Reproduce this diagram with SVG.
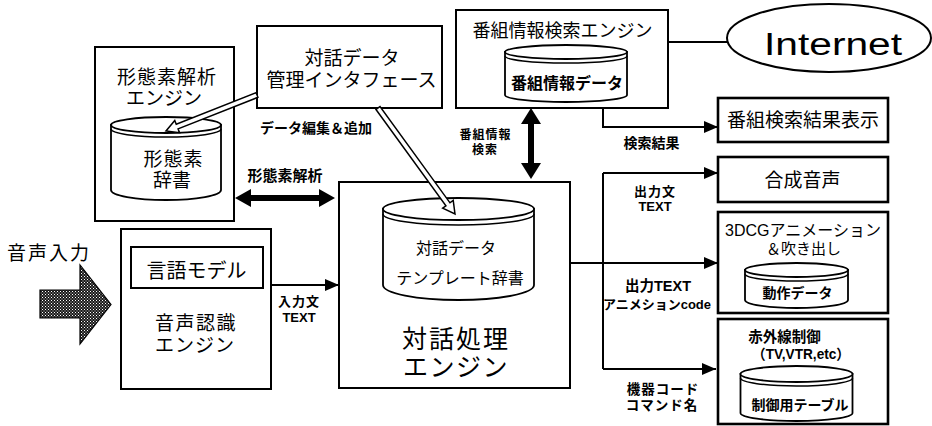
<svg xmlns="http://www.w3.org/2000/svg" width="932" height="426" viewBox="0 0 932 426">
<style>
.box{fill:#fff;stroke:#000;stroke-width:2}
.tbox{fill:#fff;stroke:#000;stroke-width:2.6}
.cyl{fill:#fff;stroke:#000;stroke-width:1.8}
.rim{fill:none;stroke:#000;stroke-width:1.5}
.ln{fill:none;stroke:#000;stroke-width:2}
.hollow{fill:#fff;stroke:#000;stroke-width:1.5;stroke-linejoin:miter}
.thick{fill:#000;stroke:none}
text{font-family:"Liberation Sans","Noto Sans CJK JP",sans-serif;fill:#000;text-anchor:middle}
.b{font-weight:bold}
</style>
<defs>
<marker id="ah" markerUnits="userSpaceOnUse" markerWidth="16" markerHeight="12" refX="14" refY="6" orient="auto">
<path d="M0,0 L14,6 L0,12 Z" fill="#000"/>
</marker>
<pattern id="dots" patternUnits="userSpaceOnUse" width="3" height="3">
<rect width="3" height="3" fill="#1a1a1a"/>
<rect x="0" y="0" width="1" height="1" fill="#fff"/>
<rect x="1.5" y="1.5" width="1" height="1" fill="#ddd"/>
</pattern>
</defs>

<g id="morph-engine">
<rect class="box" x="95" y="47" width="139" height="174"/>
<text x="167" y="84" font-size="19" letter-spacing="1">形態素解析</text>
<text x="164" y="104.5" font-size="19">エンジン</text>
<path class="cyl" d="M111,125 V190 A55,10 0 0 0 221,190 V125 Z"/>
<ellipse class="cyl" cx="166" cy="125" rx="55" ry="8"/>
<path class="rim" d="M111,129 A55,8 0 0 0 221,129"/>
<text x="173.5" y="166" font-size="19" letter-spacing="1">形態素</text>
<text x="172" y="186.5" font-size="19">辞書</text>
</g>

<g id="interface">
<rect class="box" x="257" y="26" width="185" height="82"/>
<text x="352" y="65" font-size="19">対話データ</text>
<text x="351.5" y="86.5" font-size="19">管理インタフェース</text>
</g>

<g id="program-engine">
<rect class="box" x="456" y="10" width="212" height="98"/>
<text x="562.5" y="37" font-size="18">番組情報検索エンジン</text>
<path class="cyl" d="M505,52 V95 A61,7 0 0 0 627,95 V52 Z"/>
<ellipse class="cyl" cx="566" cy="52" rx="61" ry="7"/>
<path class="rim" d="M505,56 A61,7 0 0 0 627,56"/>
<text class="b" x="567" y="89" font-size="16">番組情報データ</text>
</g>

<g id="internet">
<ellipse class="box" cx="829" cy="38" rx="102" ry="34"/>
<text x="833" y="55" font-size="31" textLength="138" lengthAdjust="spacingAndGlyphs">Internet</text>
</g>

<g id="result-display">
<rect class="tbox" x="718" y="98" width="170" height="44"/>
<text x="803" y="127" font-size="19">番組検索結果表示</text>
</g>

<g id="synth-voice">
<rect class="tbox" x="718" y="157" width="170" height="45"/>
<text x="802.5" y="187" font-size="19">合成音声</text>
</g>

<g id="cg-anim">
<rect class="tbox" x="718" y="212" width="170" height="101"/>
<text x="803" y="236" font-size="16">3DCGアニメーション</text>
<text x="803.5" y="254" font-size="15">＆吹き出し</text>
<path class="cyl" d="M745,270 V300 A51.5,8 0 0 0 848,300 V270 Z"/>
<ellipse class="cyl" cx="796.5" cy="270" rx="51.5" ry="7"/>
<path class="rim" d="M745,274 A51.5,7 0 0 0 848,274"/>
<text class="b" x="797.5" y="298.3" font-size="14">動作データ</text>
</g>

<g id="ir-control">
<rect class="tbox" x="718" y="319" width="170" height="105"/>
<text class="b" x="784.5" y="341.5" font-size="14.5">赤外線制御</text>
<text class="b" x="801" y="359" font-size="14" textLength="98" lengthAdjust="spacingAndGlyphs">（TV,VTR,etc）</text>
<path class="cyl" d="M740.5,374 V413 A56,8 0 0 0 852.5,413 V374 Z"/>
<ellipse class="cyl" cx="796.5" cy="374" rx="56" ry="8"/>
<path class="rim" d="M740.5,378 A56,8 0 0 0 852.5,378"/>
<text class="b" x="800" y="410.3" font-size="14">制御用テーブル</text>
</g>

<g id="speech-recog">
<rect class="box" x="121" y="229" width="150" height="160"/>
<rect class="box" x="131" y="247" width="132" height="41"/>
<text x="196.5" y="277.6" font-size="20">言語モデル</text>
<text x="196" y="330" font-size="19" letter-spacing="1.5">音声認識</text>
<text x="195" y="351.5" font-size="19" letter-spacing="1">エンジン</text>
</g>

<g id="dialog-engine">
<rect class="box" x="339" y="182" width="231" height="206"/>
<path class="cyl" d="M383,209 V285 A75.5,15 0 0 0 534,285 V209 Z"/>
<ellipse class="cyl" cx="458.5" cy="209" rx="75.5" ry="11"/>
<path class="rim" d="M383,214 A75.5,11 0 0 0 534,214"/>
<text x="456" y="254" font-size="16">対話データ</text>
<text x="460" y="284" font-size="16">テンプレート辞書</text>
<text x="456" y="348" font-size="25" letter-spacing="2">対話処理</text>
<text x="456" y="376" font-size="25" letter-spacing="1.5">エンジン</text>
</g>

<g id="voice-input">
<text x="49" y="259.6" font-size="19" letter-spacing="2">音声入力</text>
<path d="M40,290 H80 V265 L111,304.5 L80,344 V318 H40 Z" fill="url(#dots)" stroke="#000" stroke-width="1.2"/>
</g>

<g id="connectors">
<path class="ln" d="M668,42 H727"/>
<path class="ln" d="M603,108 V127 H718" marker-end="url(#ah)"/>
<path class="ln" d="M569,263 H718" marker-end="url(#ah)"/>
<path class="ln" d="M603,173 V369"/>
<path class="ln" d="M603,173 H718" marker-end="url(#ah)"/>
<path class="ln" d="M603,369 H716" marker-end="url(#ah)"/>
<path class="ln" d="M271,285 H339" marker-end="url(#ah)"/>
<polygon class="thick" points="235,198 251,189 251,195 319,195 319,189 335,198 319,207 319,201 251,201 251,207"/>
<polygon class="thick" points="531,108 541,124 534,124 534,163 541,163 531,179 521,163 528,163 528,124 521,124"/>
<polygon class="hollow" points="256.08,92.68 176.24,124.27 174.77,120.55 166,131 179.55,132.63 178.08,128.91 257.92,97.32"/>
<polygon class="hollow" points="375.98,109.47 445.93,205.76 442.69,208.11 455,214 453.21,200.47 449.97,202.82 380.02,106.53"/>
</g>

<g id="labels">
<text class="b" x="316" y="133.3" font-size="14">データ編集＆追加</text>
<text class="b" x="285" y="180.7" font-size="15">形態素解析</text>
<text class="b" x="485.5" y="139" font-size="12" letter-spacing="1">番組情報</text>
<text class="b" x="485" y="153.5" font-size="12" letter-spacing="1">検索</text>
<text class="b" x="651.5" y="148.3" font-size="14">検索結果</text>
<text class="b" x="655" y="196" font-size="13" letter-spacing="1">出力文</text>
<text class="b" x="655" y="211" font-size="13">TEXT</text>
<text class="b" x="299" y="306" font-size="13" letter-spacing="1">入力文</text>
<text class="b" x="299" y="322" font-size="13">TEXT</text>
<text class="b" x="658" y="290.5" font-size="14.5">出力TEXT</text>
<text class="b" x="657" y="308.5" font-size="13">アニメションcode</text>
<text class="b" x="663" y="394" font-size="13.5" letter-spacing="1">機器コード</text>
<text class="b" x="662" y="409.5" font-size="13.5" letter-spacing="1">コマンド名</text>
</g>
</svg>
